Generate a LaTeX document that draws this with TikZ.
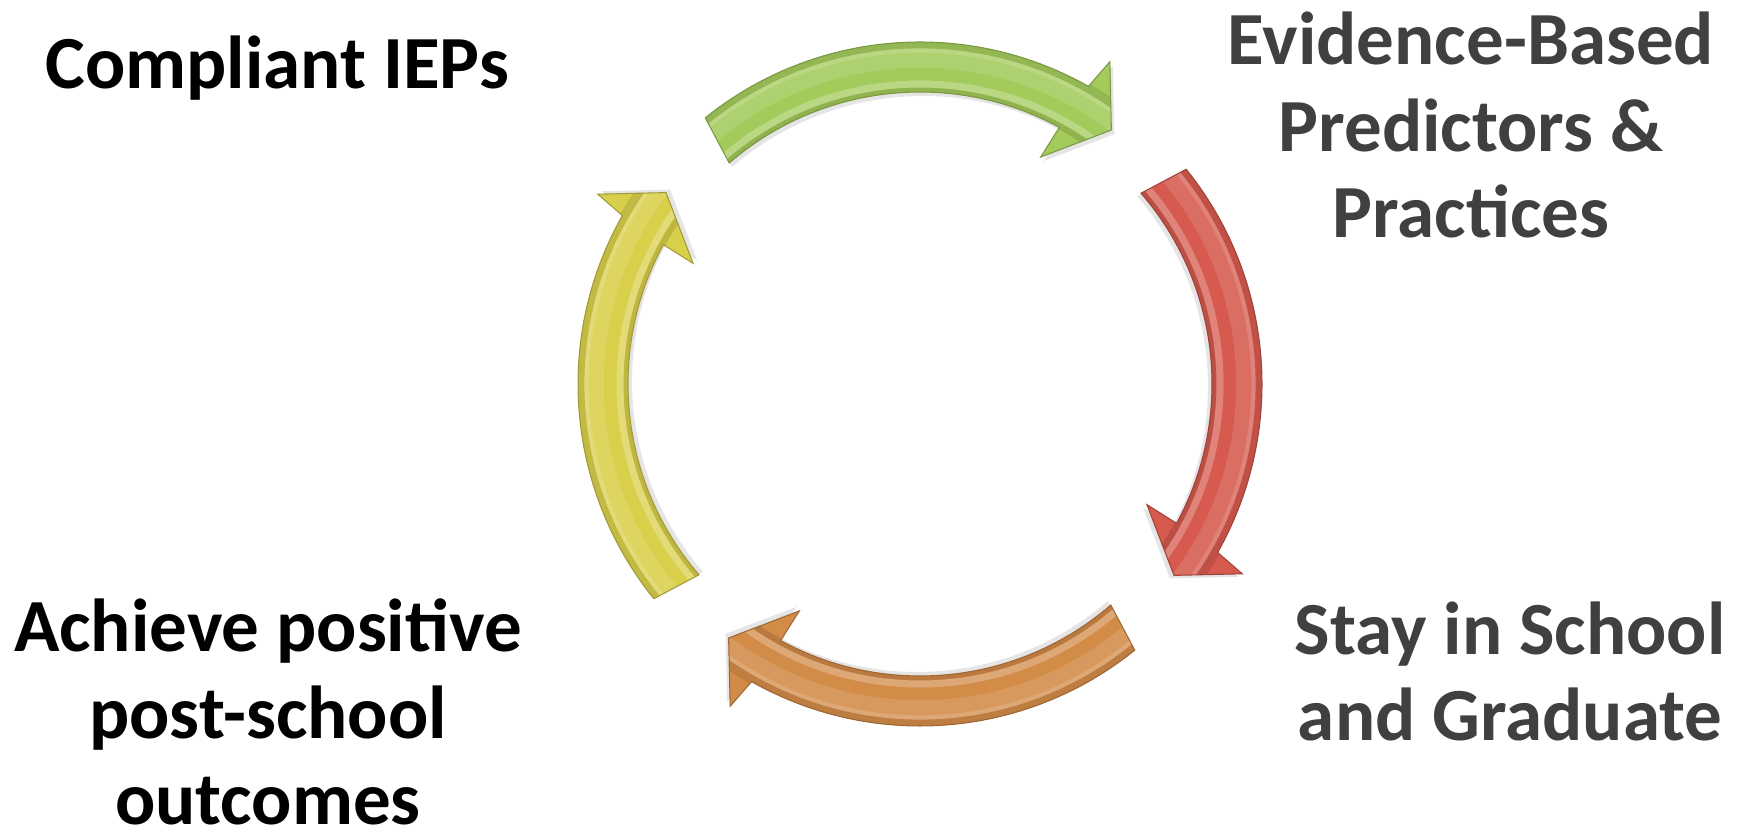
\documentclass[tikz,border=0pt]{standalone}
\usepackage{fontspec}
\setmainfont{Carlito}
\definecolor{grn}{HTML}{A3CB5B}
\definecolor{rd}{HTML}{D65A4E}
\definecolor{org}{HTML}{D38B48}
\definecolor{yel}{HTML}{D8CF4A}
\definecolor{txtgray}{HTML}{404040}
\newcommand\arwpath{(128.9:342) arc[start angle=128.9, end angle=60.5, radius=342] -- (59.5:374) -- (53:318) -- (62:257) -- (61.5:292) arc[start angle=61.5, end angle=130.8, radius=292] -- cycle}
\newcommand\ringarrow[3]{%
  \begin{scope}[shift={(920,451)}, rotate=#2]
    \fill[black, opacity=0.10, shift={(3,-4)}] \arwpath;
    \fill[#3] \arwpath;
    \begin{scope}
      \clip \arwpath;
      \draw[#3!88!black, line width=5] (0,0) circle[radius=294.5];
      \draw[#3!75!white, line width=4] (0,0) circle[radius=300];
      \draw[#3!88!white, line width=10] (0,0) circle[radius=325];
      \draw[#3!75!white, line width=3] (0,0) circle[radius=334];
      \draw[#3!90!black, line width=5] (0,0) circle[radius=340];
      \draw[#3!90!black, line width=6] (0,0) circle[radius=254];
      \draw[#3!90!black, line width=6] (0,0) circle[radius=377];
    \end{scope}
    \draw[#3!75!black, line width=0.6] \arwpath;
    \coordinate (#1) at (90:317);
  \end{scope}}
\tikzset{
  lbl/.style={font=\bfseries\fontsize{42.7}{49.5}\selectfont, inner sep=0pt, align=center}
}
\begin{document}
\begin{tikzpicture}[x=0.02cm, y=0.02cm]
\useasboundingbox (0,0) rectangle (1745,835);
\ringarrow{agreen}{0}{grn}
\ringarrow{ared}{-90}{rd}
\ringarrow{aorange}{-180}{org}
\ringarrow{ayellow}{-270}{yel}
\node[lbl, anchor=base west, text=black] (iep) at (45,746) {Compliant IEPs};
\node[lbl, anchor=base, text=txtgray] (ebp) at (1471,597) {Evidence-Based\\Predictors \&\\Practices};
\node[lbl, anchor=base, text=txtgray] (stay) at (1510,94) {Stay in School\\and Graduate};
\node[lbl, anchor=base, text=black] (ach) at (268,10) {Achieve positive\\post-school\\outcomes};
\end{tikzpicture}
\end{document}
